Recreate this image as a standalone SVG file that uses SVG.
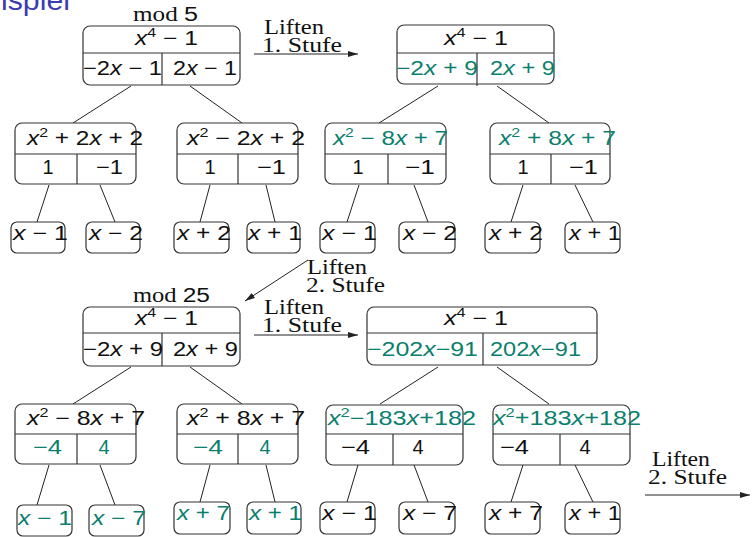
<svg xmlns="http://www.w3.org/2000/svg" width="752" height="537" viewBox="0 0 752 537">
<style>
.m{font-family:"Liberation Sans",Arial,sans-serif;font-size:20px;fill:#111}
.g{fill:#0a7f6e}
.r{font-family:"Liberation Serif","Times New Roman",serif;font-size:20px;fill:#111}
.i{font-style:italic}
.s{font-size:13px}
.c{text-anchor:middle}
.box{fill:#fff;stroke:#333;stroke-width:1.2}
.dv{stroke:#333;stroke-width:1.2;fill:none}
.e{stroke:#222;stroke-width:1;fill:none}
.ar{stroke:#222;stroke-width:1;fill:none;marker-end:url(#ah)}
</style>
<defs>
<marker id="ah" viewBox="0 0 10 6" refX="10" refY="3" markerWidth="10" markerHeight="6" markerUnits="userSpaceOnUse" orient="auto">
<path d="M0,0 L10,3 L0,6 Z" fill="#222"/>
</marker>
</defs>
<rect width="752" height="537" fill="#fff"/>
<text x="1" y="10" style="font-family:'Liberation Sans',Arial,sans-serif;font-size:27px;fill:#3b3bb3" textLength="69" lengthAdjust="spacingAndGlyphs">ispiel</text>

<g id="connectors">
<line class="e" x1="131" y1="86" x2="73" y2="123"/>
<line class="e" x1="190" y1="86" x2="242" y2="123"/>
<line class="e" x1="438" y1="86" x2="379" y2="123"/>
<line class="e" x1="497" y1="86" x2="549" y2="123"/>
<line class="e" x1="49" y1="185" x2="37" y2="222"/>
<line class="e" x1="100" y1="185" x2="115" y2="222"/>
<line class="e" x1="210" y1="185" x2="200" y2="222"/>
<line class="e" x1="266" y1="185" x2="275" y2="222"/>
<line class="e" x1="359" y1="185" x2="347" y2="222"/>
<line class="e" x1="414" y1="185" x2="428" y2="222"/>
<line class="e" x1="523" y1="185" x2="511" y2="222"/>
<line class="e" x1="575" y1="185" x2="593" y2="222"/>
<line class="e" x1="131" y1="367" x2="73" y2="404"/>
<line class="e" x1="190" y1="367" x2="242" y2="404"/>
<line class="e" x1="438" y1="367" x2="380" y2="404"/>
<line class="e" x1="497" y1="367" x2="549" y2="404"/>
<line class="e" x1="49" y1="465" x2="37" y2="505"/>
<line class="e" x1="100" y1="465" x2="115" y2="505"/>
<line class="e" x1="210" y1="465" x2="200" y2="502"/>
<line class="e" x1="266" y1="465" x2="275" y2="502"/>
<line class="e" x1="358" y1="465" x2="347" y2="502"/>
<line class="e" x1="414" y1="465" x2="428" y2="502"/>
<line class="e" x1="523" y1="465" x2="511" y2="502"/>
<line class="e" x1="575" y1="465" x2="593" y2="502"/>
<line class="ar" x1="254" y1="54" x2="358" y2="54"/>
<line class="ar" x1="308" y1="260" x2="245" y2="301"/>
<line class="ar" x1="254" y1="335" x2="358" y2="335"/>
<line class="ar" x1="645" y1="495" x2="750" y2="495"/>
<text class="r" x="264" y="34" textLength="60" lengthAdjust="spacingAndGlyphs">Liften</text>
<text class="r" x="262" y="52" textLength="80" lengthAdjust="spacingAndGlyphs">1. Stufe</text>
<text class="r" x="307" y="274" textLength="60" lengthAdjust="spacingAndGlyphs">Liften</text>
<text class="r" x="306" y="292" textLength="79" lengthAdjust="spacingAndGlyphs">2. Stufe</text>
<text class="r" x="264" y="314" textLength="60" lengthAdjust="spacingAndGlyphs">Liften</text>
<text class="r" x="262" y="332" textLength="80" lengthAdjust="spacingAndGlyphs">1. Stufe</text>
<text class="r" x="652" y="466" textLength="58" lengthAdjust="spacingAndGlyphs">Liften</text>
<text class="r" x="648" y="484" textLength="79" lengthAdjust="spacingAndGlyphs">2. Stufe</text>
</g>

<!-- mod 5 tree -->
<g id="A1">
<text class="r" x="133" y="21" textLength="65" lengthAdjust="spacingAndGlyphs">mod <tspan class="m">5</tspan></text>
<rect class="box" x="83" y="26" width="157" height="59" rx="7"/>
<line class="dv" x1="83" y1="53" x2="240" y2="53"/>
<line class="dv" x1="162" y1="53" x2="162" y2="85"/>
<text class="m" x="135" y="45" textLength="63" lengthAdjust="spacingAndGlyphs"><tspan class="i">x</tspan><tspan class="s" dy="-8">4</tspan><tspan dy="8"> − 1</tspan></text>
<text class="m" x="83" y="75" textLength="79" lengthAdjust="spacingAndGlyphs">−2<tspan class="i">x</tspan> − 1</text>
<text class="m" x="173" y="75" textLength="64" lengthAdjust="spacingAndGlyphs">2<tspan class="i">x</tspan> − 1</text>
</g>
<g id="A2">
<rect class="box" x="397" y="25" width="157" height="59" rx="7"/>
<line class="dv" x1="397" y1="53" x2="554" y2="53"/>
<line class="dv" x1="477" y1="53" x2="477" y2="86"/>
<text class="m" x="444" y="45" textLength="64" lengthAdjust="spacingAndGlyphs"><tspan class="i">x</tspan><tspan class="s" dy="-8">4</tspan><tspan dy="8"> − 1</tspan></text>
<text class="m g" x="396" y="75" textLength="82" lengthAdjust="spacingAndGlyphs">−2<tspan class="i">x</tspan> + 9</text>
<text class="m g" x="490" y="75" textLength="65" lengthAdjust="spacingAndGlyphs">2<tspan class="i">x</tspan> + 9</text>
</g>
<g id="B1">
<rect class="box" x="15" y="123" width="121" height="61" rx="7"/>
<line class="dv" x1="15" y1="154" x2="136" y2="154"/>
<line class="dv" x1="77" y1="154" x2="77" y2="184"/>
<text class="m" x="27" y="145" textLength="116" lengthAdjust="spacingAndGlyphs"><tspan class="i">x</tspan><tspan class="s" dy="-8">2</tspan><tspan dy="8"> + 2</tspan><tspan class="i">x</tspan> + 2</text>
<text class="m c" x="48" y="174">1</text>
<text class="m" x="96" y="174" textLength="27" lengthAdjust="spacingAndGlyphs">−1</text>
</g>
<g id="B2">
<rect class="box" x="177" y="123" width="121" height="61" rx="7"/>
<line class="dv" x1="177" y1="154" x2="298" y2="154"/>
<line class="dv" x1="238" y1="154" x2="238" y2="184"/>
<text class="m" x="187" y="145" textLength="118" lengthAdjust="spacingAndGlyphs"><tspan class="i">x</tspan><tspan class="s" dy="-8">2</tspan><tspan dy="8"> − 2</tspan><tspan class="i">x</tspan> + 2</text>
<text class="m c" x="210" y="174">1</text>
<text class="m" x="257" y="174" textLength="29" lengthAdjust="spacingAndGlyphs">−1</text>
</g>
<g id="B3">
<rect class="box" x="325" y="123" width="121" height="61" rx="7"/>
<line class="dv" x1="325" y1="154" x2="446" y2="154"/>
<line class="dv" x1="388" y1="154" x2="388" y2="184"/>
<text class="m g" x="333" y="145" textLength="115" lengthAdjust="spacingAndGlyphs"><tspan class="i">x</tspan><tspan class="s" dy="-8">2</tspan><tspan dy="8"> − 8</tspan><tspan class="i">x</tspan> + 7</text>
<text class="m c" x="358" y="174">1</text>
<text class="m" x="405" y="174" textLength="30" lengthAdjust="spacingAndGlyphs">−1</text>
</g>
<g id="B4">
<rect class="box" x="490" y="123" width="120" height="61" rx="7"/>
<line class="dv" x1="490" y1="154" x2="610" y2="154"/>
<line class="dv" x1="551" y1="154" x2="551" y2="184"/>
<text class="m g" x="499" y="145" textLength="117" lengthAdjust="spacingAndGlyphs"><tspan class="i">x</tspan><tspan class="s" dy="-8">2</tspan><tspan dy="8"> + 8</tspan><tspan class="i">x</tspan> + 7</text>
<text class="m c" x="523" y="174">1</text>
<text class="m" x="569" y="174" textLength="29" lengthAdjust="spacingAndGlyphs">−1</text>
</g>
<g id="L1"><rect class="box" x="11" y="222" width="54" height="31" rx="6"/><text class="m" x="13" y="240" textLength="55" lengthAdjust="spacingAndGlyphs"><tspan class="i">x</tspan> − 1</text></g>
<g id="L2"><rect class="box" x="86" y="222" width="54" height="31" rx="6"/><text class="m" x="89" y="240" textLength="54" lengthAdjust="spacingAndGlyphs"><tspan class="i">x</tspan> − 2</text></g>
<g id="L3"><rect class="box" x="174" y="222" width="55" height="31" rx="6"/><text class="m" x="177" y="240" textLength="54" lengthAdjust="spacingAndGlyphs"><tspan class="i">x</tspan> + 2</text></g>
<g id="L4"><rect class="box" x="247" y="222" width="53" height="31" rx="6"/><text class="m" x="248" y="240" textLength="54" lengthAdjust="spacingAndGlyphs"><tspan class="i">x</tspan> + 1</text></g>
<g id="L5"><rect class="box" x="320" y="222" width="55" height="31" rx="6"/><text class="m" x="322" y="240" textLength="55" lengthAdjust="spacingAndGlyphs"><tspan class="i">x</tspan> − 1</text></g>
<g id="L6"><rect class="box" x="399" y="222" width="56" height="31" rx="6"/><text class="m" x="403" y="240" textLength="54" lengthAdjust="spacingAndGlyphs"><tspan class="i">x</tspan> − 2</text></g>
<g id="L7"><rect class="box" x="485" y="222" width="55" height="31" rx="6"/><text class="m" x="489" y="240" textLength="54" lengthAdjust="spacingAndGlyphs"><tspan class="i">x</tspan> + 2</text></g>
<g id="L8"><rect class="box" x="565" y="222" width="55" height="31" rx="6"/><text class="m" x="569" y="240" textLength="52" lengthAdjust="spacingAndGlyphs"><tspan class="i">x</tspan> + 1</text></g>

<!-- mod 25 tree -->
<g id="C1">
<text class="r" x="133" y="302" textLength="77" lengthAdjust="spacingAndGlyphs">mod <tspan class="m">25</tspan></text>
<rect class="box" x="83" y="307" width="157" height="59" rx="7"/>
<line class="dv" x1="83" y1="333" x2="240" y2="333"/>
<line class="dv" x1="162" y1="333" x2="162" y2="366"/>
<text class="m" x="135" y="325" textLength="63" lengthAdjust="spacingAndGlyphs"><tspan class="i">x</tspan><tspan class="s" dy="-8">4</tspan><tspan dy="8"> − 1</tspan></text>
<text class="m" x="83" y="356" textLength="80" lengthAdjust="spacingAndGlyphs">−2<tspan class="i">x</tspan> + 9</text>
<text class="m" x="173" y="356" textLength="65" lengthAdjust="spacingAndGlyphs">2<tspan class="i">x</tspan> + 9</text>
</g>
<g id="C2">
<rect class="box" x="367" y="307" width="230" height="58" rx="7"/>
<line class="dv" x1="367" y1="333" x2="597" y2="333"/>
<line class="dv" x1="483" y1="333" x2="483" y2="365"/>
<text class="m" x="444" y="325" textLength="64" lengthAdjust="spacingAndGlyphs"><tspan class="i">x</tspan><tspan class="s" dy="-8">4</tspan><tspan dy="8"> − 1</tspan></text>
<text class="m g" x="367" y="356" textLength="111" lengthAdjust="spacingAndGlyphs">−202<tspan class="i">x</tspan>−91</text>
<text class="m g" x="490" y="356" textLength="91" lengthAdjust="spacingAndGlyphs">202<tspan class="i">x</tspan>−91</text>
</g>
<g id="D1">
<rect class="box" x="15" y="404" width="121" height="60" rx="7"/>
<line class="dv" x1="15" y1="434" x2="136" y2="434"/>
<line class="dv" x1="77" y1="434" x2="77" y2="464"/>
<text class="m" x="27" y="425" textLength="118" lengthAdjust="spacingAndGlyphs"><tspan class="i">x</tspan><tspan class="s" dy="-8">2</tspan><tspan dy="8"> − 8</tspan><tspan class="i">x</tspan> + 7</text>
<text class="m g" x="33" y="454" textLength="29" lengthAdjust="spacingAndGlyphs">−4</text>
<text class="m g c" x="104" y="454">4</text>
</g>
<g id="D2">
<rect class="box" x="177" y="404" width="121" height="60" rx="7"/>
<line class="dv" x1="177" y1="434" x2="298" y2="434"/>
<line class="dv" x1="238" y1="434" x2="238" y2="464"/>
<text class="m" x="187" y="425" textLength="118" lengthAdjust="spacingAndGlyphs"><tspan class="i">x</tspan><tspan class="s" dy="-8">2</tspan><tspan dy="8"> + 8</tspan><tspan class="i">x</tspan> + 7</text>
<text class="m g" x="193" y="454" textLength="30" lengthAdjust="spacingAndGlyphs">−4</text>
<text class="m g c" x="265" y="454">4</text>
</g>
<g id="D3">
<rect class="box" x="326" y="405" width="137" height="60" rx="7"/>
<line class="dv" x1="326" y1="434" x2="463" y2="434"/>
<line class="dv" x1="393" y1="434" x2="393" y2="465"/>
<text class="m g" x="328" y="425" textLength="148" lengthAdjust="spacingAndGlyphs"><tspan class="i">x</tspan><tspan class="s" dy="-8">2</tspan><tspan dy="8">−183</tspan><tspan class="i">x</tspan>+182</text>
<text class="m" x="341" y="454" textLength="29" lengthAdjust="spacingAndGlyphs">−4</text>
<text class="m c" x="418" y="454">4</text>
</g>
<g id="D4">
<rect class="box" x="493" y="405" width="137" height="60" rx="7"/>
<line class="dv" x1="493" y1="434" x2="630" y2="434"/>
<line class="dv" x1="560" y1="434" x2="560" y2="465"/>
<text class="m g" x="493" y="425" textLength="148" lengthAdjust="spacingAndGlyphs"><tspan class="i">x</tspan><tspan class="s" dy="-8">2</tspan><tspan dy="8">+183</tspan><tspan class="i">x</tspan>+182</text>
<text class="m" x="500" y="454" textLength="29" lengthAdjust="spacingAndGlyphs">−4</text>
<text class="m c" x="585" y="454">4</text>
</g>
<g id="M1"><rect class="box" x="17" y="505" width="55" height="31" rx="6"/><text class="m g" x="18" y="525" textLength="54" lengthAdjust="spacingAndGlyphs"><tspan class="i">x</tspan> − 1</text></g>
<g id="M2"><rect class="box" x="89" y="505" width="55" height="31" rx="6"/><text class="m g" x="92" y="525" textLength="54" lengthAdjust="spacingAndGlyphs"><tspan class="i">x</tspan> − 7</text></g>
<g id="M3"><rect class="box" x="174" y="502" width="56" height="32" rx="6"/><text class="m g" x="177" y="520" textLength="53" lengthAdjust="spacingAndGlyphs"><tspan class="i">x</tspan> + 7</text></g>
<g id="M4"><rect class="box" x="247" y="502" width="54" height="32" rx="6"/><text class="m g" x="249" y="520" textLength="53" lengthAdjust="spacingAndGlyphs"><tspan class="i">x</tspan> + 1</text></g>
<g id="M5"><rect class="box" x="320" y="502" width="55" height="32" rx="6"/><text class="m" x="322" y="520" textLength="55" lengthAdjust="spacingAndGlyphs"><tspan class="i">x</tspan> − 1</text></g>
<g id="M6"><rect class="box" x="399" y="502" width="56" height="32" rx="6"/><text class="m" x="403" y="520" textLength="54" lengthAdjust="spacingAndGlyphs"><tspan class="i">x</tspan> − 7</text></g>
<g id="M7"><rect class="box" x="485" y="502" width="55" height="32" rx="6"/><text class="m" x="489" y="520" textLength="54" lengthAdjust="spacingAndGlyphs"><tspan class="i">x</tspan> + 7</text></g>
<g id="M8"><rect class="box" x="565" y="502" width="55" height="32" rx="6"/><text class="m" x="569" y="520" textLength="52" lengthAdjust="spacingAndGlyphs"><tspan class="i">x</tspan> + 1</text></g>
</svg>
